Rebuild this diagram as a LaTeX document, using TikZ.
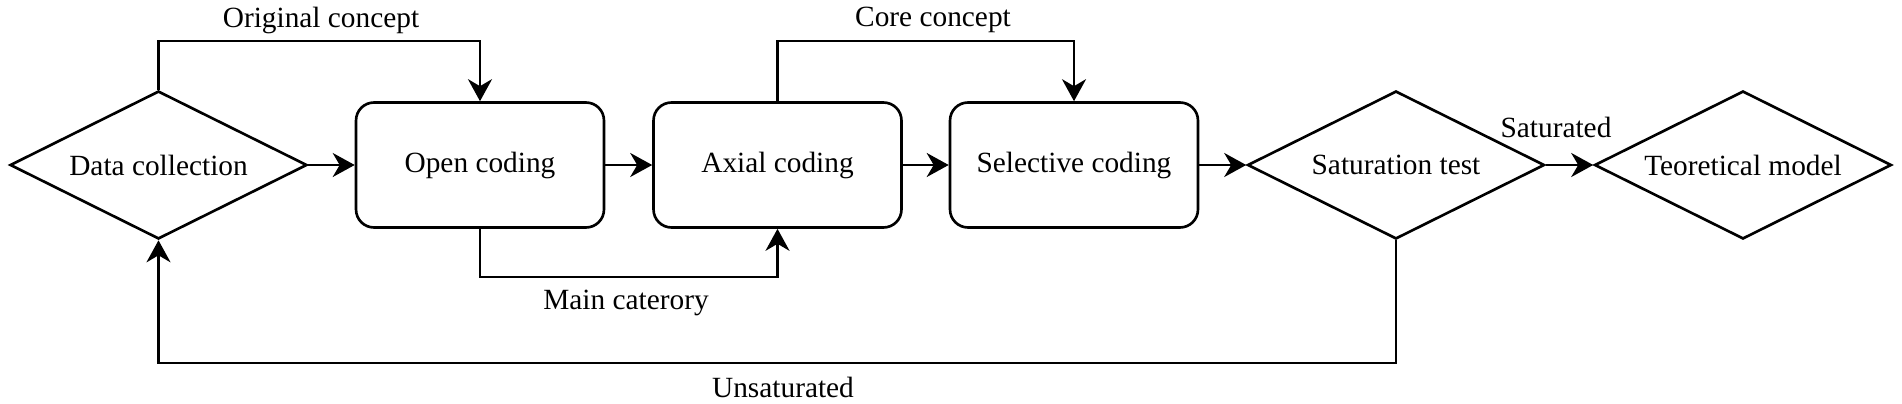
\documentclass[tikz,border=0pt]{standalone}
\usepackage{fontspec}
\setmainfont{Liberation Serif}
\usetikzlibrary{arrows.meta,shapes.geometric}
\tikzset{font=\fontsize{16.7}{20}\selectfont}
\tikzset{decision/.style={draw, shape=diamond, aspect=2, inner sep=0pt,
    minimum width=5.94cm, minimum height=2.96cm}}
\tikzset{process/.style={draw, rectangle, rounded corners=0.36cm,
    minimum width=4.96cm, minimum height=2.5cm}}
\tikzset{lbl/.style={inner sep=0pt}}

\begin{document}
\begin{tikzpicture}[x=0.02cm, y=0.02cm, line width=1.5pt,
  >={Stealth[length=0.44cm, width=0.48cm, inset=0.14cm]}]
  \useasboundingbox (0,0) rectangle (1902,403);

  \node[decision] (dc) at (158.5,238) {Data collection};
  \node[process] (oc) at (480,238) {Open coding};
  \node[process] (ac) at (777.5,238) {Axial coding};
  \node[process] (sc) at (1074,238) {Selective coding};
  \node[decision] (st) at (1396,238) {Saturation test};
  \node[decision] (tm) at (1743,238) {Teoretical model};

  \coordinate (top) at (0,362);
  \coordinate (mid) at (0,126);
  \coordinate (bot) at (0,40);

  \draw[->] (dc.east) -- (oc.west);
  \draw[->] (oc.east) -- (ac.west);
  \draw[->] (ac.east) -- (sc.west);
  \draw[->] (sc.east) -- (st.west);
  \draw[->] (st.east) -- (tm.west);

  \draw[->] (dc.north) |- (top -| oc.north) -- (oc.north);
  \draw[->] (ac.north) |- (top -| sc.north) -- (sc.north);
  \draw[->] (oc.south) |- (mid -| ac.south) -- (ac.south);
  \draw[->] (st.south) |- (bot -| dc.south) -- (dc.south);

  \node[lbl] (orig) at (321,383) {Original concept};
  \node[lbl] (core) at (933,383) {Core concept};
  \node[lbl] (main) at (626,100) {Main caterory};
  \node[lbl] (unsat) at (783,16) {Unsaturated};
  \node[lbl] (sat) at (1556,276) {Saturated};

\end{tikzpicture}
\end{document}
